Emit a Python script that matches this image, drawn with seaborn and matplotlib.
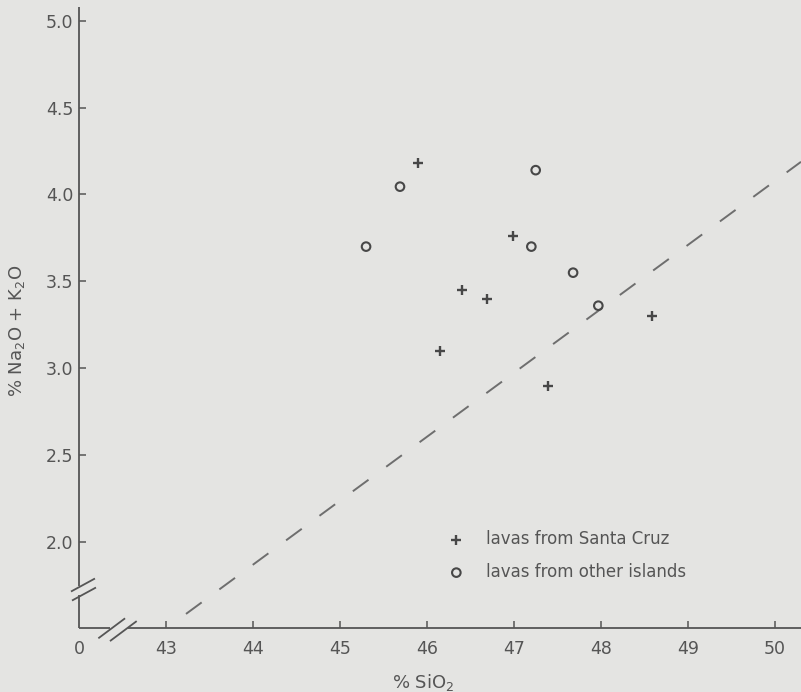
import numpy as np
import pandas as pd
import matplotlib
matplotlib.use('Agg')
import matplotlib.pyplot as plt
import seaborn as sns

# values
sc_sio2 = [45.90, 46.99, 46.40, 46.69, 46.15, 47.39, 48.59]
sc_alk = [4.18, 3.76, 3.45, 3.40, 3.10, 2.90, 3.30]
oi_sio2 = [45.69, 47.25, 47.20, 45.30, 47.68, 47.97]
oi_alk = [4.045, 4.14, 3.70, 3.70, 3.55, 3.36]

# dashed dividing line (end points)
div_sio2 = [43.23, 50.30]
div_alk = [1.586, 4.188]

x_ticks = [42.0, 43, 44, 45, 46, 47, 48, 49, 50]
x_labels = ['0', '43', '44', '45', '46', '47', '48', '49', '50']
y_ticks = [2.0, 2.5, 3.0, 3.5, 4.0, 4.5, 5.0]
y_labels = ['2.0', '2.5', '3.0', '3.5', '4.0', '4.5', '5.0']

bg = '#e4e4e2'
ink = '#555555'
dot = '#474747'

sns.set_theme(style='ticks')
plt.rcParams['font.family'] = ['DejaVu Sans']
plt.rcParams['mathtext.fontset'] = 'dejavusans'

df = pd.concat([
    pd.DataFrame({'sio2': sc_sio2, 'alk': sc_alk, 'group': 'lavas from Santa Cruz'}),
    pd.DataFrame({'sio2': oi_sio2, 'alk': oi_alk, 'group': 'lavas from other islands'}),
])

fig = plt.figure(figsize=(8.01, 6.92), dpi=100, facecolor=bg)
ax = fig.add_axes([79 / 801, 64 / 692, 722 / 801, 621 / 692])
ax.set_facecolor(bg)

ax.plot(div_sio2, div_alk, color='#6e6e6e', lw=1.4, dashes=(10, 11.3), solid_capstyle='butt')

sns.scatterplot(data=df[df['group'] == 'lavas from Santa Cruz'], x='sio2', y='alk',
                marker='+', s=45, color=dot, linewidth=1.7,
                label='lavas from Santa Cruz', ax=ax, zorder=3)
sns.scatterplot(data=df[df['group'] == 'lavas from other islands'], x='sio2', y='alk',
                marker='o', s=38, facecolors='none', edgecolor=dot, linewidth=1.5,
                label='lavas from other islands', ax=ax, zorder=3)

ax.set_xlim(42.0, 50.30)
ax.set_ylim(1.505, 5.079)
ax.set_xticks(x_ticks)
ax.set_xticklabels(x_labels)
ax.set_yticks(y_ticks)
ax.set_yticklabels(y_labels)
ax.tick_params(axis='both', direction='in', length=5, width=1.1, color=ink,
               labelcolor=ink, labelsize=12.5)
ax.tick_params(axis='x', pad=9)
ax.tick_params(axis='y', pad=4)
ax.xaxis.get_major_ticks()[0].tick1line.set_visible(False)

for s in ax.spines.values():
    s.set_visible(False)

# axes with breaks
kw = dict(transform=ax.transAxes, color=ink, lw=1.3, clip_on=False, solid_capstyle='butt')
ax.plot([0, 0], [0, 0.053], **kw)
ax.plot([0, 0], [0.068, 1], **kw)
ax.plot([0, 0.043], [0, 0], **kw)
ax.plot([0.068, 1], [0, 0], **kw)
for cx, cy, hx, hy in [(0.0055, 0.0692, 0.0166, 0.0105), (0.0069, 0.0547, 0.0166, 0.0105),
                       (0.0453, -0.0005, 0.0185, 0.0161), (0.0614, -0.005, 0.0185, 0.0161)]:
    ax.plot([cx - hx, cx + hx], [cy - hy, cy + hy], **kw)

ax.set_xlabel(r'% SiO$_2$', fontsize=13, color=ink)
ax.xaxis.set_label_coords(0.4765, -0.087)
ax.xaxis.label.set_va('center')
ax.set_ylabel(r'% Na$_2$O + K$_2$O', fontsize=13, color=ink)
ax.yaxis.set_label_coords(-0.086, 0.478)
ax.yaxis.label.set_va('center')

handles, labels = ax.get_legend_handles_labels()
ax.legend(handles, labels, frameon=False, loc='upper left',
          bbox_to_anchor=(448 / 801, 1 - 530 / 692), bbox_transform=fig.transFigure,
          fontsize=12, handlelength=1.0, handletextpad=1.25, labelspacing=0.9,
          borderpad=0, borderaxespad=0, labelcolor=ink, scatterpoints=1)

fig.savefig('out.png', dpi=100, facecolor=bg)
